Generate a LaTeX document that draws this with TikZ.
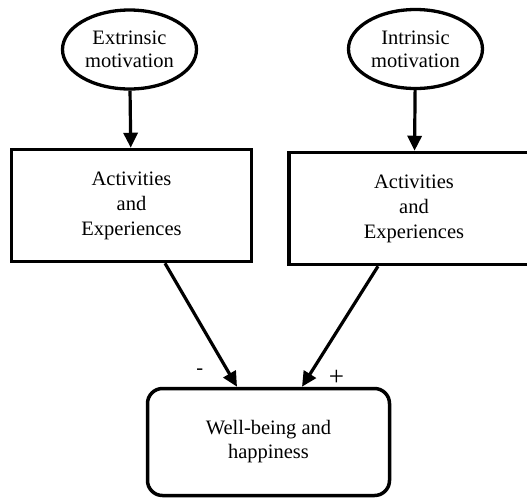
\documentclass[tikz,border=0pt]{standalone}
\usepackage{fontspec}
\setmainfont{Liberation Serif}
\usetikzlibrary{shapes.geometric,arrows.meta}

\begin{document}
\begin{tikzpicture}[x=1pt,y=-1pt,
	motiv/.style={ellipse,draw,line width=3.3pt,minimum width=134pt,minimum height=79pt,inner sep=0pt,align=center,font=\fontsize{20.5}{23}\selectfont},
	activ/.style={rectangle,draw,line width=3.5pt,minimum width=240pt,minimum height=112pt,align=center,font=\fontsize{20.5}{25}\selectfont},
	bien/.style={rectangle,draw,rounded corners=15pt,line width=3.5pt,minimum width=242pt,minimum height=107pt,align=center,font=\fontsize{20.5}{24}\selectfont},
	fleche/.style={-{Triangle[length=15pt,width=14pt]},line width=3.2pt},
	signe/.style={inner sep=0pt,font=\fontsize{20.5}{24}\selectfont}]
	\useasboundingbox (0,0) rectangle (527,499);
	%noeuds
	\node (node 1) at(129.5,49.5) [motiv] {Extrinsic\\motivation} ;
	\node (node 2) at(415.5,49) [motiv] {Intrinsic\\motivation} ;
	\node (node 3) at(131.5,205.5) [activ] {Activities\\and\\Experiences} ;
	\node (node 4) at(414,208.5) [activ,minimum width=250pt] {Activities\\and\\Experiences} ;
	\node (node 5) at(268.5,442) [bien] {Well-being and\\happiness} ;

	%fleches
	\path
	(node 1) edge[fleche] (node 3)
	(node 2) edge[fleche] (node 4)
	([xshift=33.5pt]node 3.south) edge[fleche] node[signe,pos=.86,left=22pt,yshift=-2pt] {-} ([xshift=-31.5pt]node 5.north)
	([xshift=-36pt]node 4.south) edge[fleche] node[signe,font=\fontsize{27}{30}\selectfont,pos=.89,right=17pt,yshift=-4pt] {+} ([xshift=33.5pt]node 5.north)
	;
\end{tikzpicture}
\end{document}
